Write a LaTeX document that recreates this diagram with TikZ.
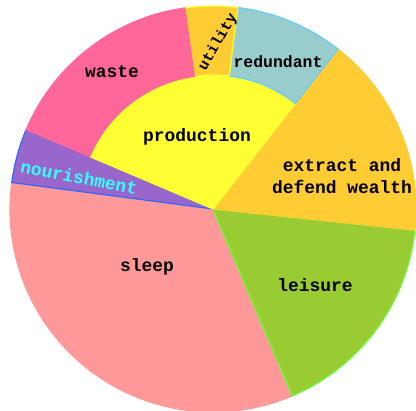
\documentclass[tikz,border=0pt]{standalone}
\usepackage{fontspec}
\setmonofont{Liberation Mono}
\usepackage{tikz}
\usetikzlibrary{calc}
\definecolor{sleepc}{HTML}{FF9999}
\definecolor{leisurec}{HTML}{99CC33}
\definecolor{leisureb}{HTML}{66FF33}
\definecolor{extractc}{HTML}{FFCC33}
\definecolor{prodc}{HTML}{FFFF33}
\definecolor{redundc}{HTML}{99CCCC}
\definecolor{redundb}{HTML}{66CCFF}
\definecolor{wastec}{HTML}{FF6699}
\definecolor{nourc}{HTML}{9966CC}
\definecolor{nourb}{HTML}{3366FF}
\definecolor{nourt}{HTML}{33FFFF}
\tikzstyle{slice}=[line width=1.2pt, line join=round]
\tikzstyle{lbl}=[font=\ttfamily\bfseries\fontsize{18}{22}\selectfont, inner sep=0pt]

\begin{document}
\begin{tikzpicture}[x=1bp,y=1bp]
\useasboundingbox (-213,-202) rectangle (203,209);
% full wedges
\filldraw[slice, fill=sleepc, draw=sleepc] (0,0) -- (172.5:203) arc[start angle=172.5, end angle=293, radius=203] -- cycle;
\filldraw[slice, fill=leisurec, draw=leisureb] (0,0) -- (-67:203) arc[start angle=-67, end angle=-6, radius=203] -- cycle;
\filldraw[slice, fill=extractc, draw=extractc] (0,0) -- (-6:203) arc[start angle=-6, end angle=52, radius=203] -- cycle;
\filldraw[slice, fill=nourc, draw=nourb] (0,0) -- (157:203) arc[start angle=157, end angle=172.5, radius=203] -- cycle;
% inner and outer ring
\filldraw[slice, fill=prodc, draw=prodc] (0,0) -- (52:134) arc[start angle=52, end angle=157, radius=134] -- cycle;
\filldraw[slice, fill=redundc, draw=redundb] (52:134) -- (52:203) arc[start angle=52, end angle=83, radius=203] -- (83:134) arc[start angle=83, end angle=52, radius=134] -- cycle;
\filldraw[slice, fill=extractc, draw=prodc] (83:134) -- (83:203) arc[start angle=83, end angle=98, radius=203] -- (98:134) arc[start angle=98, end angle=83, radius=134] -- cycle;
\filldraw[slice, fill=wastec, draw=wastec] (98:134) -- (98:203) arc[start angle=98, end angle=157, radius=203] -- (157:134) arc[start angle=157, end angle=98, radius=134] -- cycle;

\node[lbl] (waste) at (-101,137) {waste};
\node[lbl, rotate=60, font=\ttfamily\bfseries\fontsize{15}{17}\selectfont] (utility) at (5,167) {utility};
\node[lbl, font=\ttfamily\bfseries\fontsize{16.5}{18}\selectfont] (redundant) at (65,147) {redundant};
\node[lbl] (production) at (-16,72) {production};
\node[lbl, align=center] (extract) at (129,33) {extract and\\defend wealth};
\node[lbl, rotate=-11, text=nourt] (nourishment) at (-134,32) {nourishment};
\node[lbl] (sleep) at (-66,-58) {sleep};
\node[lbl] (leisure) at (102,-76) {leisure};
\end{tikzpicture}
\end{document}
